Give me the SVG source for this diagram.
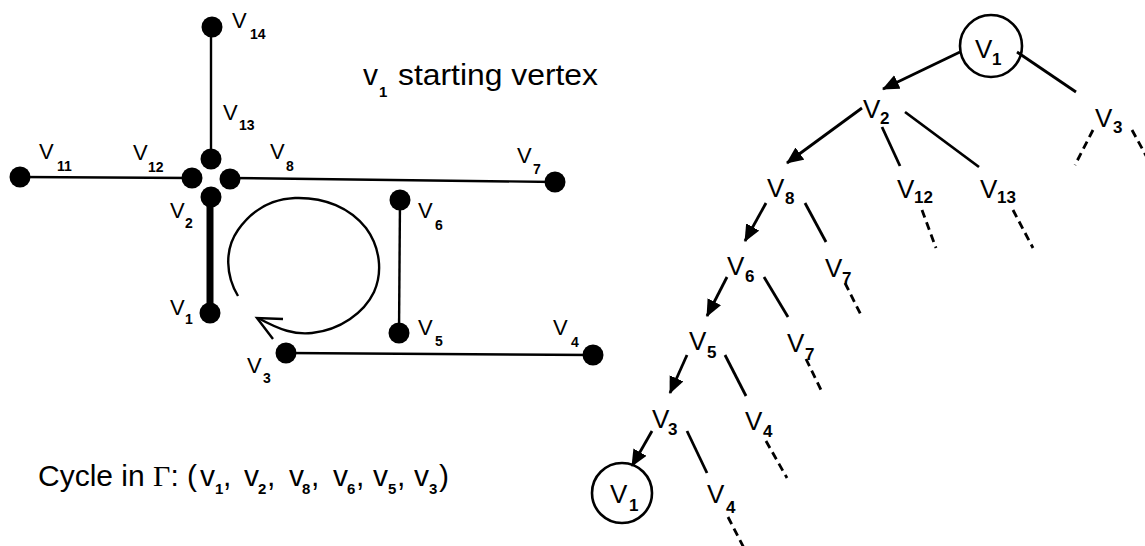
<svg xmlns="http://www.w3.org/2000/svg" width="1145" height="546" viewBox="0 0 1145 546">
<style>
text{font-family:"Liberation Sans",Arial,Helvetica,sans-serif;fill:#000}
.lv{font-size:22px}
.ls{font-size:14px;font-weight:bold}
.tv{font-size:26px}
.ts{font-size:17px;font-weight:bold}
.big{font-size:30px}
.bs{font-size:15px;font-weight:bold}
.dot{fill:#000}
.e{stroke:#000;stroke-width:2.4;fill:none}
.te{stroke:#000;stroke-width:2.8;fill:none}
.dash{stroke:#000;stroke-width:2.8;fill:none;stroke-dasharray:8 5}
.arr{stroke:#000;stroke-width:2.8;fill:none;marker-end:url(#ah)}
.circ{fill:none;stroke:#000;stroke-width:2.6}
</style>
<defs>
<marker id="ah" markerUnits="userSpaceOnUse" markerWidth="18" markerHeight="16" refX="16" refY="7.5" orient="auto">
<path d="M0,0 L17,7.5 L0,15 z" fill="#000"/>
</marker>
</defs>

<g id="connectors">
<!-- left graph -->
<line class="e" x1="211" y1="27" x2="211" y2="158"/>
<line class="e" x1="20" y1="177" x2="192" y2="178"/>
<line class="e" x1="230" y1="178" x2="555" y2="182"/>
<line x1="210" y1="198" x2="210" y2="313" stroke="#000" stroke-width="7"/>
<line class="e" x1="400" y1="200" x2="399" y2="333"/>
<line class="e" x1="286" y1="353" x2="593" y2="355"/>
<path class="e" d="M238,296 C226,276 224,250 238,230 C252,210 272,199 295,198 C325,197 350,208 366,228 C380,247 383,272 374,292 C364,313 340,330 312,333 C295,335 280,330 258,318"/>
<polyline class="e" points="283,319 257,318 273,339"/>
<!-- tree -->
<line class="arr" x1="960" y1="52" x2="883" y2="89"/>
<line class="te" x1="1017" y1="52" x2="1076" y2="92"/>
<line class="dash" x1="1093" y1="130" x2="1075" y2="165"/>
<line class="dash" x1="1132" y1="130" x2="1150" y2="163"/>
<line class="arr" x1="862" y1="108" x2="787" y2="163"/>
<line class="te" x1="882" y1="127" x2="900" y2="166"/>
<line class="te" x1="905" y1="112" x2="979" y2="167"/>
<line class="dash" x1="922" y1="210" x2="936" y2="248"/>
<line class="dash" x1="1013" y1="210" x2="1033" y2="248"/>
<line class="arr" x1="766" y1="203" x2="745" y2="241"/>
<line class="te" x1="805" y1="203" x2="826" y2="242"/>
<line class="dash" x1="845" y1="283" x2="862" y2="317"/>
<line class="arr" x1="727" y1="277" x2="707" y2="316"/>
<line class="te" x1="764" y1="277" x2="788" y2="317"/>
<line class="dash" x1="806" y1="359" x2="823" y2="394"/>
<line class="arr" x1="687" y1="355" x2="670" y2="393"/>
<line class="te" x1="725" y1="355" x2="746" y2="396"/>
<line class="dash" x1="766" y1="441" x2="787" y2="478"/>
<line class="arr" x1="652" y1="431" x2="632" y2="466"/>
<line class="te" x1="687" y1="431" x2="707" y2="473"/>
<line class="dash" x1="728" y1="517" x2="745" y2="550"/>
</g>

<!-- left graph nodes -->
<g id="g-v14"><circle class="dot" cx="212" cy="27" r="10.5"/><text class="lv" x="232" y="28">V</text><text class="ls" x="250" y="39">14</text></g>
<g id="g-v13"><circle class="dot" cx="211" cy="159" r="10.5"/><text class="lv" x="223" y="120">V</text><text class="ls" x="239" y="130">13</text></g>
<g id="g-v12"><circle class="dot" cx="192" cy="178" r="10.5"/><text class="lv" x="133" y="160">V</text><text class="ls" x="148" y="172">12</text></g>
<g id="g-v8"><circle class="dot" cx="230" cy="179" r="10.5"/><text class="lv" x="270" y="159">V</text><text class="ls" x="286" y="171">8</text></g>
<g id="g-v2"><circle class="dot" cx="211" cy="197" r="10.5"/><text class="lv" x="170" y="218">V</text><text class="ls" x="185" y="228">2</text></g>
<g id="g-v11"><circle class="dot" cx="20" cy="177" r="10.5"/><text class="lv" x="39" y="159">V</text><text class="ls" x="57" y="171">11</text></g>
<g id="g-v7"><circle class="dot" cx="555" cy="182" r="10.5"/><text class="lv" x="517" y="163">V</text><text class="ls" x="533" y="174">7</text></g>
<g id="g-v1"><circle class="dot" cx="210" cy="313" r="10.5"/><text class="lv" x="170" y="315">V</text><text class="ls" x="185" y="324">1</text></g>
<g id="g-v6"><circle class="dot" cx="400" cy="200" r="10.5"/><text class="lv" x="418" y="218">V</text><text class="ls" x="435" y="230">6</text></g>
<g id="g-v5"><circle class="dot" cx="399" cy="333" r="10.5"/><text class="lv" x="418" y="335">V</text><text class="ls" x="435" y="346">5</text></g>
<g id="g-v3"><circle class="dot" cx="286" cy="353" r="10.5"/><text class="lv" x="247" y="373">V</text><text class="ls" x="263" y="383">3</text></g>
<g id="g-v4"><circle class="dot" cx="593" cy="355" r="10.5"/><text class="lv" x="553" y="335">V</text><text class="ls" x="571" y="347">4</text></g>

<!-- captions -->
<g id="caption-start"><text class="big" x="363" y="85">v</text><text class="bs" x="379" y="97">1</text><text class="big" x="398" y="85" textLength="200" lengthAdjust="spacingAndGlyphs">starting vertex</text></g>
<g id="caption-cycle">
<text class="big" x="38" y="486">Cycle in <tspan font-family="Liberation Serif">Γ</tspan>: (</text>
<text class="big" x="200" y="486">v</text><text class="bs" x="215" y="494">1</text><text class="big" x="223" y="486">,</text>
<text class="big" x="244" y="486">v</text><text class="bs" x="258" y="494">2</text><text class="big" x="267" y="486">,</text>
<text class="big" x="289" y="486">v</text><text class="bs" x="302" y="494">8</text><text class="big" x="311" y="486">,</text>
<text class="big" x="333" y="486">v</text><text class="bs" x="347" y="494">6</text><text class="big" x="356" y="486">,</text>
<text class="big" x="373" y="486">v</text><text class="bs" x="388" y="494">5</text><text class="big" x="397" y="486">,</text>
<text class="big" x="414" y="486">v</text><text class="bs" x="429" y="494">3</text><text class="big" x="439" y="486">)</text>
</g>

<!-- tree nodes -->
<g id="t-v1"><circle class="circ" cx="991" cy="46" r="31"/><text class="tv" x="975" y="58">V</text><text class="ts" x="992" y="65">1</text></g>
<g id="t-v2"><text class="tv" x="863" y="118">V</text><text class="ts" x="880" y="124">2</text></g>
<g id="t-v3"><text class="tv" x="1095" y="127">V</text><text class="ts" x="1113" y="133">3</text></g>
<g id="t-v8"><text class="tv" x="767" y="197">V</text><text class="ts" x="785" y="204">8</text></g>
<g id="t-v12"><text class="tv" x="897" y="198">V</text><text class="ts" x="914" y="203">12</text></g>
<g id="t-v13"><text class="tv" x="980" y="198">V</text><text class="ts" x="997" y="203">13</text></g>
<g id="t-v6"><text class="tv" x="727" y="275">V</text><text class="ts" x="745" y="282">6</text></g>
<g id="t-v7a"><text class="tv" x="825" y="277">V</text><text class="ts" x="842" y="284">7</text></g>
<g id="t-v5"><text class="tv" x="689" y="350">V</text><text class="ts" x="707" y="358">5</text></g>
<g id="t-v7b"><text class="tv" x="787" y="352">V</text><text class="ts" x="805" y="360">7</text></g>
<g id="t-v3b"><text class="tv" x="652" y="428">V</text><text class="ts" x="668" y="435">3</text></g>
<g id="t-v4a"><text class="tv" x="745" y="430">V</text><text class="ts" x="763" y="437">4</text></g>
<g id="t-v1b"><circle class="circ" cx="622" cy="493" r="30"/><text class="tv" x="610" y="503">V</text><text class="ts" x="629" y="511">1</text></g>
<g id="t-v4b"><text class="tv" x="707" y="503">V</text><text class="ts" x="726" y="513">4</text></g>
</svg>
